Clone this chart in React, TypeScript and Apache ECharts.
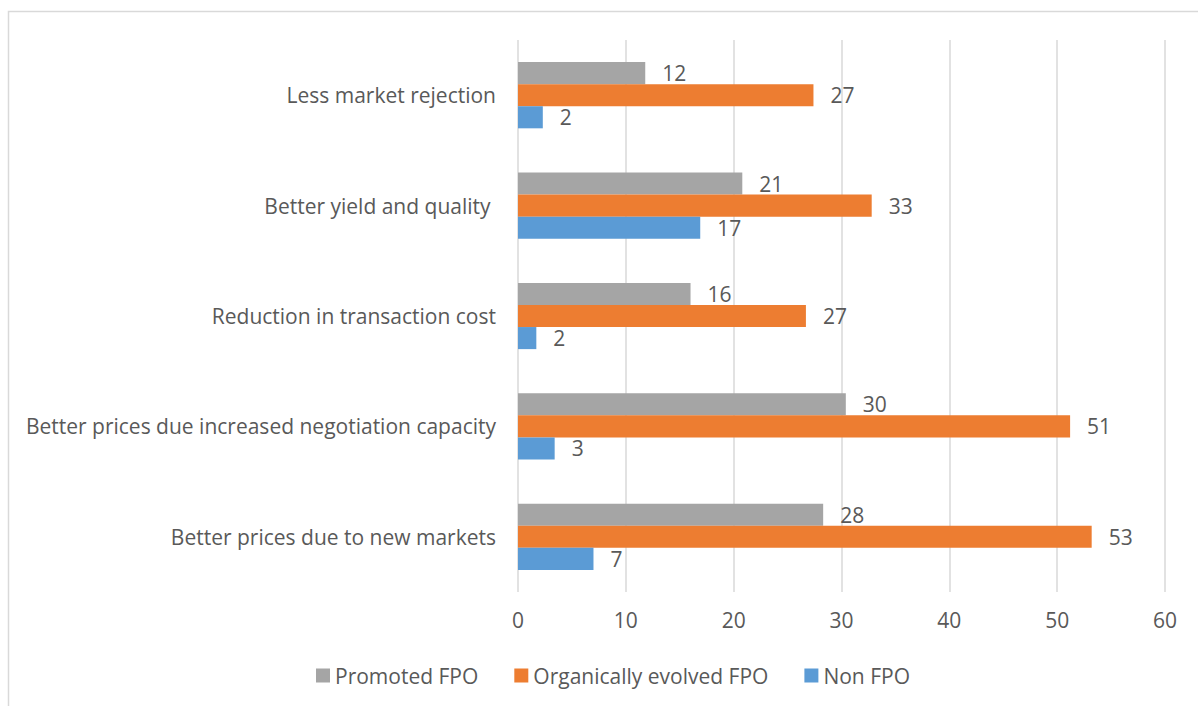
import React, { useEffect, useRef } from "react";
import * as echarts from "echarts";

const categories = [
  "Better prices due to new markets",
  "Better prices due increased negotiation capacity",
  "Reduction in transaction cost",
  "Better yield and quality ",
  "Less market rejection",
];
const promotedFPO = [28.3, 30.4, 16.0, 20.8, 11.8];
const organicFPO = [53.2, 51.2, 26.7, 32.8, 27.4];
const nonFPO = [7.0, 3.4, 1.7, 16.9, 2.3];
const seriesNames = ["Promoted FPO", "Organically evolved FPO", "Non FPO"];
const xTicks = { min: 0, max: 60, interval: 10 };

const FONT = "Open Sans";
const FS = 21;
const TXT = "#595959";

export default function App() {
  const ref = useRef<HTMLDivElement>(null);
  useEffect(() => {
    document.body.style.margin = "0";
    const chart = echarts.init(ref.current!, undefined, { renderer: "svg" });
    const label = {
      show: true,
      position: "right" as const,
      distance: 17,
      color: TXT,
      fontFamily: FONT,
      fontSize: FS,
      formatter: (p: any) => String(Math.round(p.value)),
    };
    const colors = ["#A5A5A5", "#ED7D31", "#5B9BD5"];
    const data = [promotedFPO, organicFPO, nonFPO];
    chart.setOption({
      animation: false,
      textStyle: { fontFamily: FONT },
      graphic: [
        {
          type: "polyline",
          shape: { points: [[8.5, 706], [8.5, 11.5], [1198, 11.5]] },
          style: { stroke: "#D9D9D9", lineWidth: 1.5, fill: "none" },
          silent: true,
        },
      ],
      legend: {
        top: 665,
        left: 316,
        padding: 0,
        itemWidth: 14,
        itemHeight: 14,
        itemGap: 36,
        icon: "rect",
        textStyle: { color: TXT, fontFamily: FONT, fontSize: FS },
        data: seriesNames,
      },
      grid: { left: 518, right: 33, top: 40, bottom: 114, containLabel: false },
      xAxis: {
        type: "value",
        min: xTicks.min,
        max: xTicks.max,
        interval: xTicks.interval,
        axisLine: { show: false },
        axisTick: { show: false },
        splitLine: { lineStyle: { color: "#D9D9D9", width: 1.5 } },
        axisLabel: { color: TXT, fontFamily: FONT, fontSize: FS, margin: 17 },
      },
      yAxis: {
        type: "category",
        data: categories,
        axisLine: { show: false },
        axisTick: { show: false },
        axisLabel: { color: TXT, fontFamily: FONT, fontSize: FS, margin: 22 },
      },
      series: seriesNames.map((n, i) => ({
        name: n,
        type: "bar",
        data: data[i],
        itemStyle: { color: colors[i] },
        barGap: "0%",
        barCategoryGap: "40%",
        label,
      })),
    });
    return () => chart.dispose();
  }, []);
  return <div ref={ref} style={{ width: 1198, height: 706 }} />;
}
